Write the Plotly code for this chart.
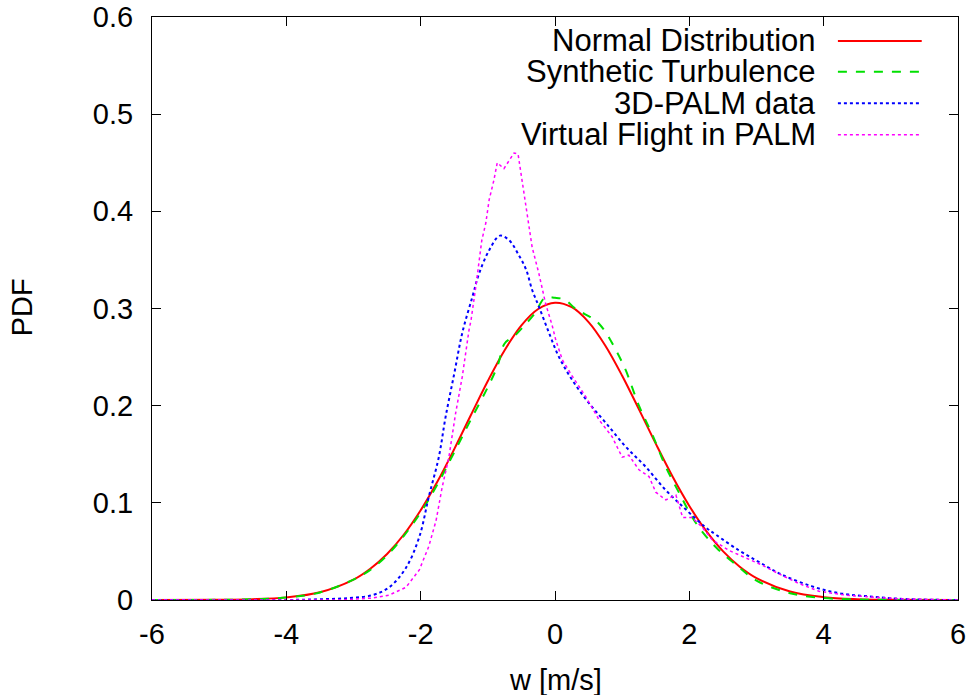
import plotly.graph_objects as go

# ---- data ----
normal_w = [-6, -5, -4.5, -4, -3.5, -3, -2.75, -2.5, -2.25, -2, -1.75, -1.5, -1.25, -1, -0.75, -0.5, -0.25,
            0, 0.25, 0.5, 0.75, 1, 1.25, 1.5, 1.75, 2, 2.25, 2.5, 2.75, 3, 3.5, 4, 4.5, 5, 6]
normal_pdf = [0.0, 0.0002, 0.0008, 0.0027, 0.0080, 0.0210, 0.0322, 0.0474, 0.0674, 0.0924, 0.1219, 0.1553,
              0.1906, 0.2254, 0.2571, 0.2827, 0.2995, 0.3060, 0.3013, 0.2860, 0.2617, 0.2308, 0.1962, 0.1609,
              0.1271, 0.0968, 0.0711, 0.0503, 0.0343, 0.0226, 0.0087, 0.0029, 0.0008, 0.0002, 0.0]

synth_w = [-6, -5, -4.5, -4, -3.5, -3, -2.75, -2.5, -2.25, -2, -1.75, -1.5, -1.25, -1, -0.85, -0.75, -0.6,
           -0.45, -0.3, -0.15, 0, 0.15, 0.3, 0.45, 0.6, 0.75, 0.9, 1.05, 1.25, 1.45, 1.65, 1.85, 2.1, 2.4,
           2.7, 3, 3.5, 4, 4.5, 5, 6]
synth_pdf = [0.0, 0.0002, 0.0008, 0.0025, 0.0078, 0.021, 0.031, 0.046, 0.066, 0.090, 0.119, 0.152, 0.186,
             0.219, 0.242, 0.264, 0.272, 0.283, 0.295, 0.311, 0.311, 0.309, 0.300, 0.294, 0.288, 0.276, 0.258,
             0.237, 0.200, 0.170, 0.137, 0.110, 0.079, 0.054, 0.036, 0.020, 0.007, 0.002, 0.0006, 0.0001, 0.0]

palm_w = [-6, -4, -3.5, -3.07, -2.72, -2.47, -2.22, -2.02, -1.88, -1.73, -1.63, -1.5, -1.38, -1.23, -1.13,
          -0.98, -0.82, -0.68, -0.54, -0.43, -0.34, -0.24, -0.09, 0.06, 0.26, 0.5, 0.76, 1.05, 1.35, 1.65,
          1.95, 2.24, 2.4, 2.74, 3.04, 3.38, 3.83, 4.23, 4.63, 5.2, 6]
palm_pdf = [0.0, 0.0, 0.0008, 0.002, 0.005, 0.013, 0.033, 0.065, 0.106, 0.147, 0.188, 0.233, 0.275, 0.312,
            0.336, 0.360, 0.375, 0.370, 0.355, 0.340, 0.319, 0.302, 0.275, 0.250, 0.226, 0.203, 0.182, 0.158,
            0.137, 0.113, 0.093, 0.075, 0.067, 0.051, 0.039, 0.026, 0.014, 0.007, 0.004, 0.001, 0.0]

flight_w = [-6, -3.2, -2.72, -2.47, -2.22, -2.02, -1.88, -1.77, -1.68, -1.58, -1.48, -1.38, -1.28, -1.25,
            -1.18, -1.13, -1.09, -1.03, -0.98, -0.91, -0.86, -0.76, -0.68, -0.61, -0.55, -0.49, -0.42, -0.34,
            -0.24, -0.14, -0.04, 0.01, 0.11, 0.26, 0.46, 0.66, 0.85, 1.0, 1.1, 1.25, 1.4, 1.5, 1.65, 1.8,
            1.9, 2.04, 2.19, 2.34, 2.59, 2.84, 3.08, 3.33, 3.63, 3.93, 4.33, 4.72, 5.2, 6]
flight_pdf = [0.0, 0.0, 0.002, 0.005, 0.013, 0.031, 0.055, 0.082, 0.116, 0.147, 0.192, 0.230, 0.278, 0.288,
              0.322, 0.347, 0.370, 0.388, 0.412, 0.432, 0.450, 0.444, 0.453, 0.460, 0.459, 0.432, 0.398,
              0.363, 0.336, 0.305, 0.282, 0.268, 0.247, 0.230, 0.209, 0.185, 0.168, 0.147, 0.149, 0.134,
              0.127, 0.111, 0.103, 0.108, 0.085, 0.085, 0.075, 0.062, 0.051, 0.043, 0.036, 0.027, 0.017,
              0.009, 0.005, 0.003, 0.001, 0.0]

series_names = ["Normal Distribution", "Synthetic Turbulence", "3D-PALM data", "Virtual Flight in PALM"]
series_colors = ["#ff0000", "#00e000", "#0000ff", "#ff00ff"]
series_dash = ["solid", "dash", "dot", "dot"]
series_width = [2, 2, 2, 1.5]
series_shape = ["spline", "spline", "spline", "linear"]

x_ticks = [-6, -4, -2, 0, 2, 4, 6]
x_ticklabels = ["-6", "-4", "-2", "0", "2", "4", "6"]
y_ticks = [0, 0.1, 0.2, 0.3, 0.4, 0.5, 0.6]
y_ticklabels = ["0", "0.1", "0.2", "0.3", "0.4", "0.5", "0.6"]

xs = [normal_w, synth_w, palm_w, flight_w]
ys = [normal_pdf, synth_pdf, palm_pdf, flight_pdf]

FONT = "Liberation Sans, Arial, Helvetica, sans-serif"
FS = 29
FS_LEG = 31

fig = go.Figure()
for x, y, name, c, d, w, s in zip(xs, ys, series_names, series_colors, series_dash, series_width, series_shape):
    fig.add_trace(go.Scatter(x=x, y=y, mode="lines", name=name, showlegend=False,
                             line=dict(color=c, dash=d, width=w, shape=s)))

# gnuplot-style legend: right-aligned text, then the line sample
leg_rows = [0.959, 0.906, 0.852, 0.798]
for name, c, d, w, yy in zip(series_names, series_colors, series_dash, series_width, leg_rows):
    fig.add_annotation(x=0.826, y=yy, xref="paper", yref="paper", text=name, showarrow=False,
                       xanchor="right", yanchor="middle", font=dict(family=FONT, size=FS_LEG, color="black"))
    fig.add_shape(type="line", xref="paper", yref="paper", x0=0.851, x1=0.955, y0=yy, y1=yy,
                  line=dict(color=c, dash=d, width=w))

# axis titles
fig.add_annotation(x=0.5, y=-0.137, xref="paper", yref="paper", text="w [m/s]", showarrow=False,
                   xanchor="center", yanchor="middle", font=dict(family=FONT, size=FS, color="black"))
fig.add_annotation(x=-0.161, y=0.5026, xref="paper", yref="paper", text="PDF", showarrow=False,
                   textangle=-90, xanchor="center", yanchor="middle",
                   font=dict(family=FONT, size=FS, color="black"))

fig.update_layout(
    width=974, height=695,
    margin=dict(l=152, r=16, t=17, b=95),
    plot_bgcolor="white", paper_bgcolor="white",
    font=dict(family=FONT, size=FS, color="black"),
    showlegend=False,
)
fig.update_xaxes(range=[-6, 6], tickvals=x_ticks, ticktext=x_ticklabels, ticks="inside", ticklen=9,
                 tickcolor="black", showline=True, linecolor="black", linewidth=1, mirror="ticks",
                 showgrid=False, zeroline=False, automargin=False, ticklabelstandoff=8,
                 ticklabeloverflow="allow", tickfont=dict(size=FS))
fig.update_yaxes(range=[0, 0.6], tickvals=y_ticks, ticktext=y_ticklabels, ticks="inside", ticklen=9,
                 tickcolor="black", showline=True, linecolor="black", linewidth=1, mirror="ticks",
                 showgrid=False, zeroline=False, automargin=False, ticklabelstandoff=12,
                 ticklabeloverflow="allow", tickfont=dict(size=FS))

# remove the default 8px page margin so the figure sits at the window's top-left corner
fig.write_html("out.html", config={"displayModeBar": False},
               post_script="document.body.style.margin='0';")
